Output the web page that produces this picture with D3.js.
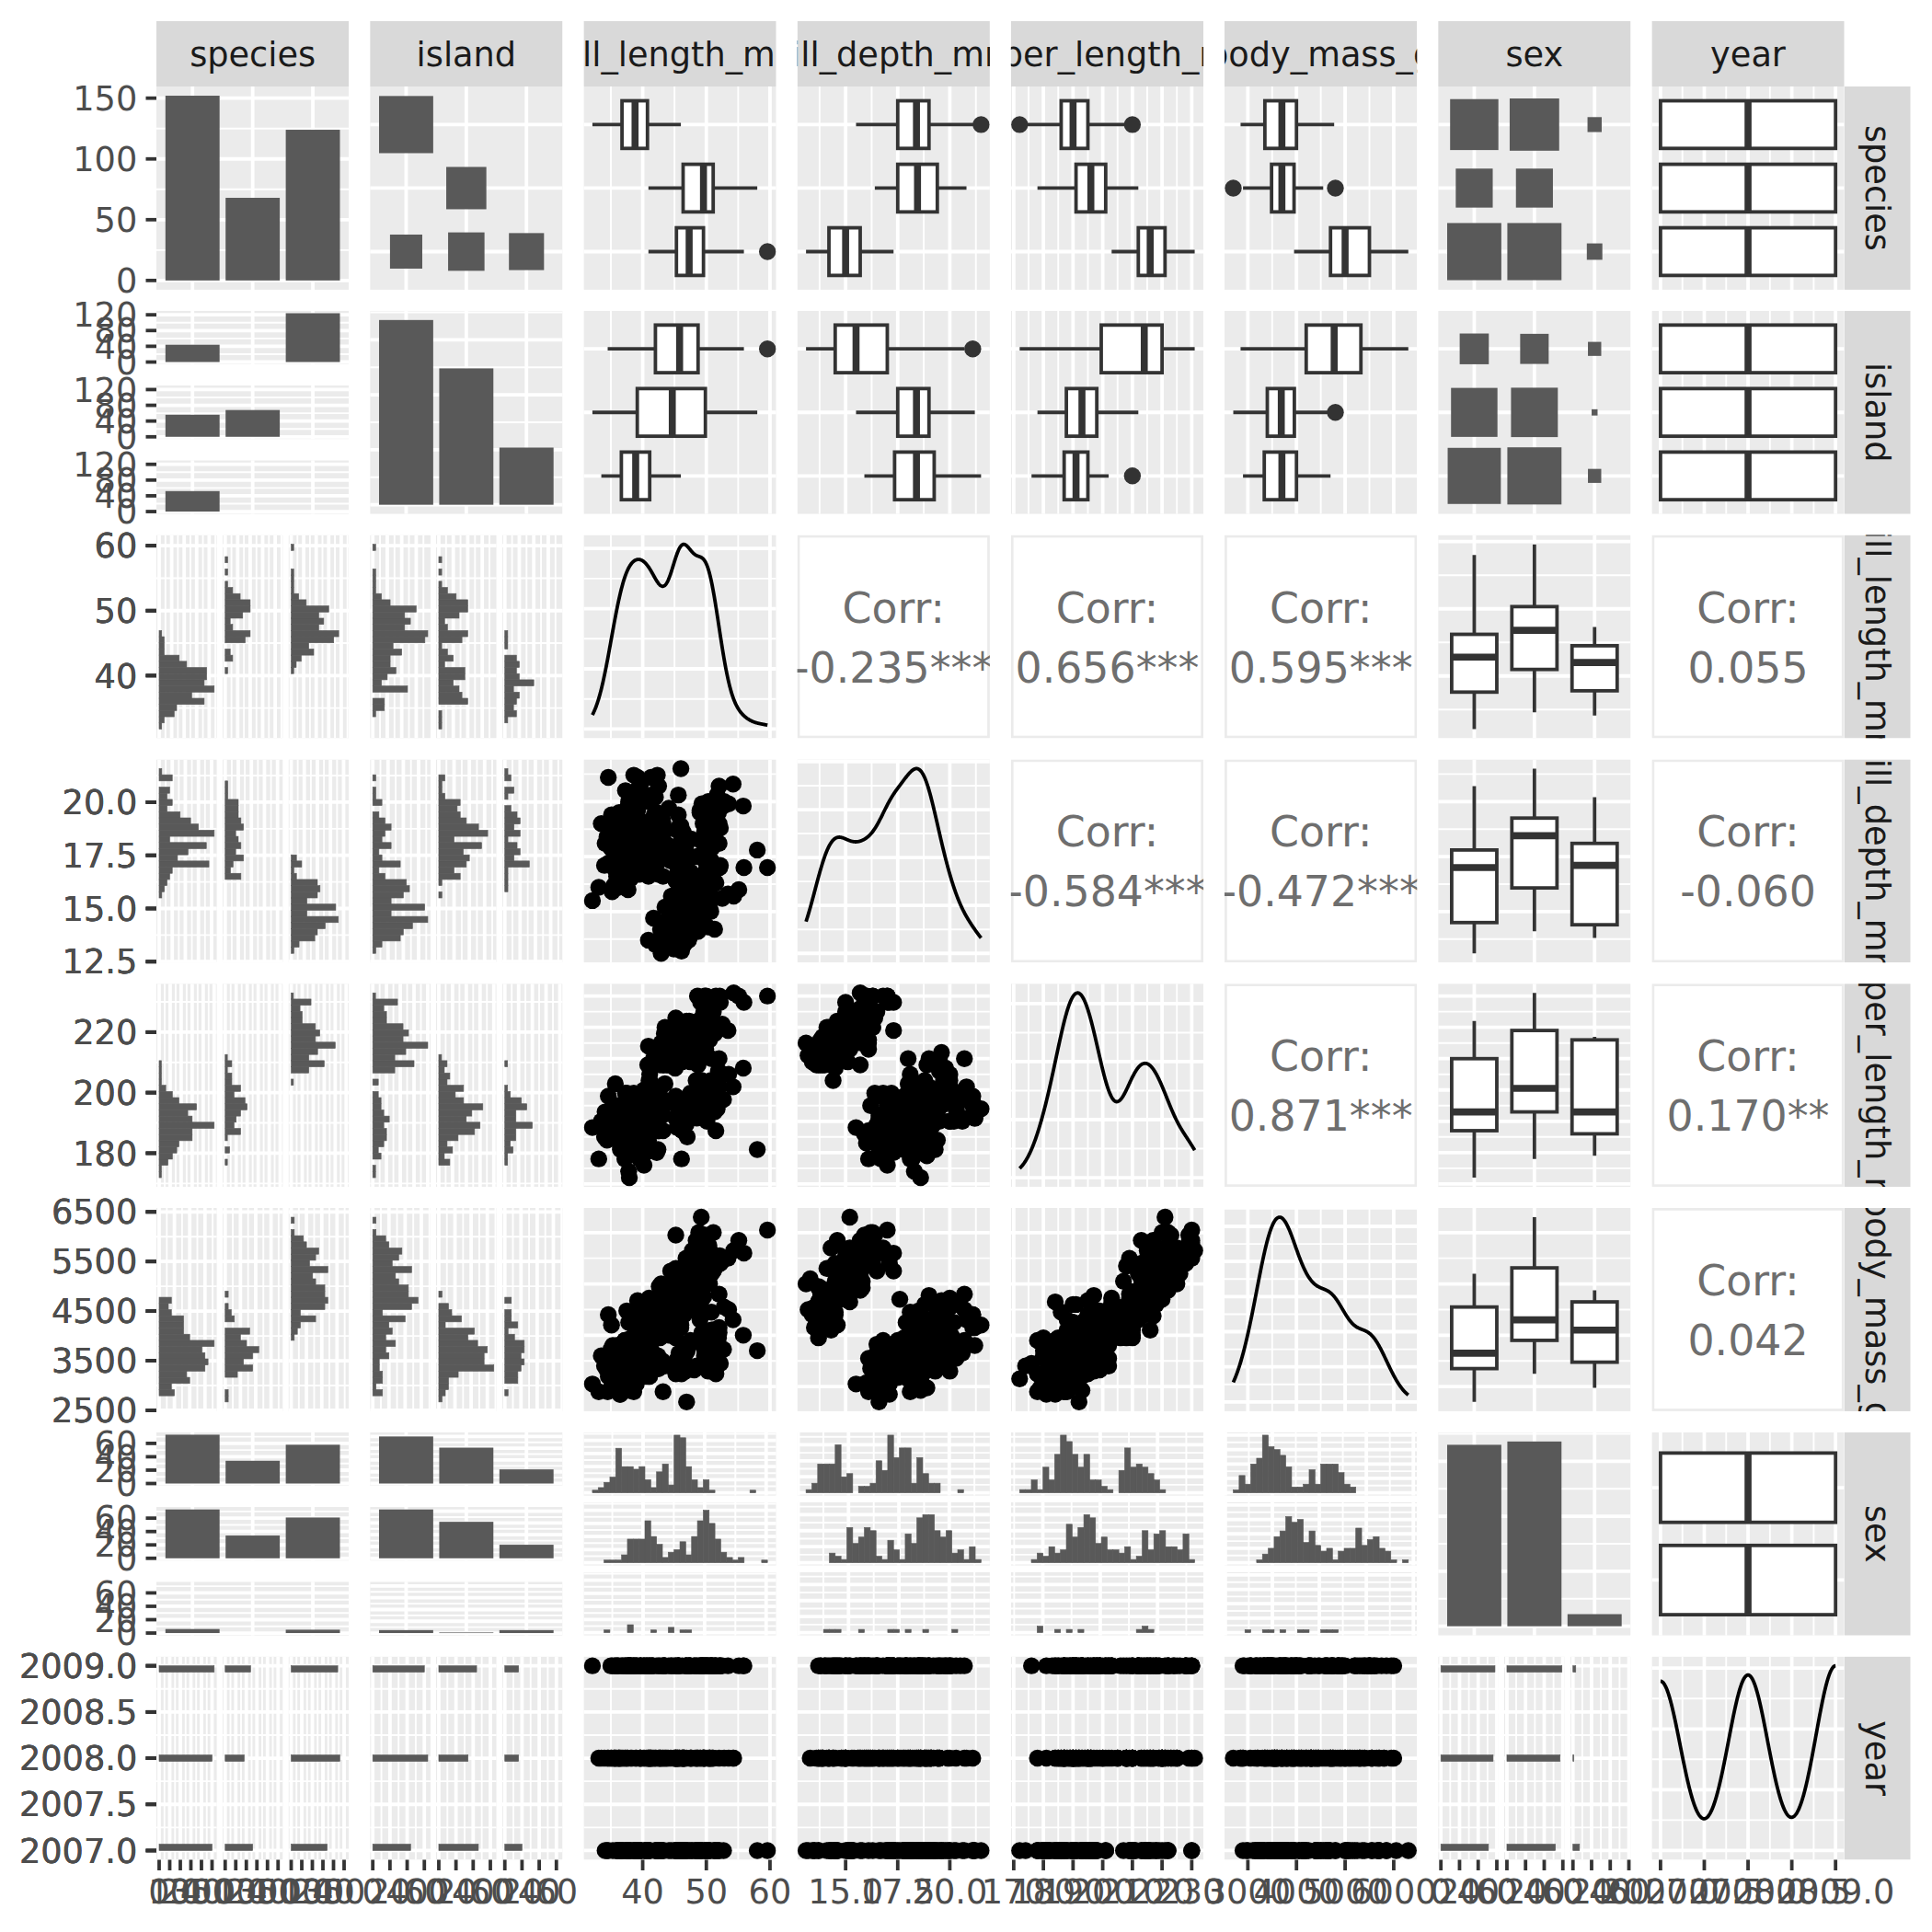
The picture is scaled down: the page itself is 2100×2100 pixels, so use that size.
<!DOCTYPE html>
<html><head><meta charset="utf-8">
<script src="https://cdn.jsdelivr.net/npm/d3@7"></script>
<style>html,body{margin:0;padding:0;background:#fff;} svg{display:block;} text{font-family:"DejaVu Sans",sans-serif;}</style>
</head><body>
<script>
// ---------------- DATA (palmer penguins, read/estimated) ----------------
const M = "male", F = "female", N = null;
const varNames = ["species","island","bill_length_mm","bill_depth_mm","flipper_length_mm","body_mass_g","sex","year"];
const speciesLevels = ["Adelie","Chinstrap","Gentoo"];
const islandLevels = ["Biscoe","Dream","Torgersen"];
const sexLevels = ["female","male",null];
// rows: [bill_length_mm, bill_depth_mm, flipper_length_mm, body_mass_g, sex]
const adelieTorgersen2007 = [[39.1,18.7,181,3750,M],[39.5,17.4,186,3800,F],[40.3,18.0,195,3250,F],[null,null,null,null,N],[36.7,19.3,193,3450,F],[39.3,20.6,190,3650,M],[38.9,17.8,181,3625,F],[39.2,19.6,195,4675,M],[34.1,18.1,193,3475,N],[42.0,20.2,190,4250,N],[37.8,17.1,186,3300,N],[37.8,17.3,180,3700,N],[41.1,17.6,182,3200,F],[38.6,21.2,191,3800,M],[34.6,21.1,198,4400,M],[36.6,17.8,185,3700,F],[38.7,19.0,195,3450,F],[42.5,20.7,197,4500,M],[34.4,18.4,184,3325,F],[46.0,21.5,194,4200,M]];
const adelieBiscoe2007 = [[37.8,18.3,174,3400,F],[37.7,18.7,180,3600,M],[35.9,19.2,189,3800,F],[38.2,18.1,185,3950,M],[38.8,17.2,180,3800,M],[35.3,18.9,187,3800,F],[40.6,18.6,183,3550,M],[40.5,17.9,187,3200,F],[37.9,18.6,172,3150,F],[40.5,18.9,180,3950,M]];
const adelieDream2007 = [[39.5,16.7,178,3250,F],[37.2,18.1,178,3900,M],[39.5,17.8,188,3300,F],[40.9,18.9,184,3900,M],[36.4,17.0,195,3325,F],[39.2,21.1,196,4150,M],[38.8,20.0,190,3950,M],[42.2,18.5,180,3550,F],[37.6,19.3,181,3300,F],[39.8,19.1,184,4650,M],[36.5,18.0,182,3150,F],[40.8,18.4,195,3900,M],[36.0,18.5,186,3100,F],[44.1,19.7,196,4400,M],[37.0,16.9,185,3000,F],[39.6,18.8,190,4600,M],[41.1,19.0,182,3425,M],[37.5,18.9,179,2975,N],[36.0,17.9,190,3450,F],[42.3,21.2,191,4150,M]];
const adelieBiscoe2008 = [[39.6,17.7,186,3500,F],[40.1,18.9,188,4300,M],[35.0,17.9,190,3450,F],[42.0,19.5,200,4050,M],[34.5,18.1,187,2900,F],[41.4,18.6,191,3700,M],[39.0,17.5,186,3550,F],[40.6,18.8,193,3800,M],[36.5,16.6,181,2850,F],[37.6,19.1,194,3750,M],[35.7,16.9,185,3150,F],[41.3,21.1,195,4400,M],[37.6,17.0,185,3600,F],[41.1,18.2,192,4050,M],[36.4,17.1,184,2850,F],[41.6,18.0,192,3950,M],[35.5,16.2,195,3350,F],[41.1,19.1,188,4100,M]];
const adelieTorgersen2008 = [[35.9,16.6,190,3050,F],[41.8,19.4,198,4450,M],[33.5,19.0,190,3600,F],[39.7,18.4,190,3900,M],[39.6,17.2,196,3550,F],[45.8,18.9,197,4150,M],[35.5,17.5,190,3700,F],[42.8,18.5,195,4250,M],[40.9,16.8,191,3700,F],[37.2,19.4,184,3900,M],[36.2,16.1,187,3550,F],[42.1,19.1,195,4000,M],[34.6,17.2,189,3200,F],[42.9,17.6,196,4700,M],[36.7,18.8,187,3800,F],[35.1,19.4,193,4200,M]];
const adelieDream2008 = [[37.3,17.8,191,3350,F],[41.3,20.3,194,3550,M],[36.3,19.5,190,3800,M],[36.9,18.6,189,3500,F],[38.3,19.2,189,3950,M],[38.9,18.8,190,3600,F],[35.7,18.0,202,3550,F],[41.1,18.1,205,4300,M],[34.0,17.1,185,3400,F],[39.6,18.1,186,4450,M],[36.2,17.3,187,3300,F],[40.8,18.9,208,4300,M],[38.1,18.6,190,3700,F],[40.3,18.5,196,4350,M],[33.1,16.1,178,2900,F],[43.2,18.5,192,4100,M]];
const adelieBiscoe2009 = [[35.0,17.9,192,3725,F],[41.0,20.0,203,4725,M],[37.7,16.0,183,3075,F],[37.8,20.0,190,4250,M],[37.9,18.6,193,2925,F],[39.7,18.9,184,3550,M],[38.6,17.2,199,3750,F],[38.2,20.0,190,3900,M],[38.1,17.0,181,3175,F],[43.2,19.0,197,4775,M],[38.1,16.5,198,3825,F],[45.6,20.3,191,4600,M],[39.7,17.7,193,3200,F],[42.2,19.5,197,4275,M],[39.6,20.7,191,3900,F],[42.7,18.3,196,4075,M]];
const adelieTorgersen2009 = [[38.6,17.0,188,2900,F],[37.3,20.5,199,3775,M],[35.7,17.0,189,3350,F],[41.1,18.6,189,3325,M],[36.2,17.2,187,3150,F],[37.7,19.8,198,3500,M],[40.2,17.0,176,3450,F],[41.4,18.5,202,3875,M],[35.2,15.9,186,3050,F],[40.6,19.0,199,4000,M],[38.8,17.6,191,3275,F],[41.5,18.3,195,4300,M],[39.0,17.1,191,3050,F],[44.1,18.0,210,4000,M],[38.5,17.9,190,3325,F],[43.1,19.2,197,3500,M]];
const adelieDream2009 = [[36.8,18.5,193,3500,F],[37.5,18.5,199,4475,M],[38.1,17.6,187,3425,F],[41.1,17.5,190,3900,M],[35.6,17.5,191,3175,F],[40.2,20.1,200,3975,M],[37.0,16.5,185,3400,F],[39.7,17.9,193,4250,M],[40.2,17.1,193,3400,F],[40.6,17.2,187,3475,M],[32.1,15.5,188,3050,F],[40.7,17.0,190,3725,M],[37.3,16.8,192,3000,F],[39.0,18.7,185,3650,M],[39.2,18.6,190,4250,M],[36.6,18.4,184,3475,F],[36.0,17.8,195,3450,F],[37.8,18.1,193,3750,M],[36.0,17.1,187,3700,F],[41.5,18.5,201,4000,M]];
const gentooBiscoe2007 = [[46.1,13.2,211,4500,F],[50.0,16.3,230,5700,M],[48.7,14.1,210,4450,F],[50.0,15.2,218,5700,M],[47.6,14.5,215,5400,M],[46.5,13.5,210,4550,F],[45.4,14.6,211,4800,F],[46.7,15.3,219,5200,M],[43.3,13.4,209,4400,F],[46.8,15.4,215,5150,M],[40.9,13.7,214,4650,F],[49.0,16.1,216,5550,M],[45.5,13.7,214,4650,F],[48.4,14.6,213,5850,M],[45.8,14.6,210,4200,F],[49.3,15.7,217,5850,M],[42.0,13.5,210,4150,F],[49.2,15.2,221,6300,M],[46.2,14.5,209,4800,F],[48.7,15.1,222,5350,M],[50.2,14.3,218,5700,M],[45.1,14.5,215,5000,F],[46.5,14.5,213,4400,F],[46.3,15.8,215,5050,M],[42.9,13.1,215,5000,F],[46.1,15.1,215,5100,M],[44.5,14.3,216,4100,N],[47.8,15.0,215,5650,M],[48.2,14.3,210,4600,F],[50.0,15.3,220,5550,M],[47.3,15.3,222,5250,M],[42.8,14.2,209,4700,F],[45.1,14.5,207,5050,F],[59.6,17.0,230,6050,M]];
const gentooBiscoe2008 = [[49.1,14.8,220,5150,F],[48.4,16.3,220,5400,M],[42.6,13.7,213,4950,F],[44.4,17.3,219,5250,M],[44.0,13.6,208,4350,F],[48.7,15.7,208,5350,M],[42.7,13.7,208,3950,F],[49.6,16.0,225,5700,M],[45.3,13.7,210,4300,F],[49.6,15.0,216,4750,M],[50.5,15.9,222,5550,M],[43.6,13.9,217,4900,F],[45.5,13.9,210,4200,F],[50.5,15.9,225,5400,M],[44.9,13.3,213,5100,F],[45.2,15.8,215,5300,M],[46.6,14.2,210,4850,F],[48.5,14.1,220,5300,M],[45.1,14.4,210,4400,F],[50.1,15.0,225,5000,M],[46.5,14.4,217,4900,F],[45.0,15.4,220,5050,M],[43.8,13.9,208,4300,F],[45.5,15.0,220,5000,M],[43.2,14.5,208,4450,F],[50.4,15.3,224,5550,M],[45.3,13.8,208,4200,F],[46.2,14.9,221,5300,M],[45.7,13.9,214,4400,F],[54.3,15.7,231,5650,M],[45.8,14.2,219,4700,F],[49.8,16.8,230,5700,M],[46.2,14.4,214,4650,N],[49.5,16.2,229,5800,M],[43.5,14.2,220,4700,F],[50.7,15.0,223,5550,M],[47.7,15.0,216,4750,F],[46.4,15.6,221,5000,M],[48.2,15.6,221,5100,M],[46.5,14.8,217,5200,F],[46.4,15.0,216,4700,F],[48.6,16.0,230,5800,M],[47.5,14.2,209,4600,F],[51.1,16.3,220,6000,M],[45.2,13.8,215,4750,F],[45.2,16.4,223,5950,M]];
const gentooBiscoe2009 = [[49.1,14.5,212,4625,F],[52.5,15.6,221,5450,M],[47.4,14.6,212,4725,F],[50.0,15.9,224,5350,M],[44.9,13.8,212,4750,F],[50.8,17.3,228,5600,M],[43.4,14.4,218,4600,F],[51.3,14.2,218,5300,M],[47.5,14.0,212,4875,F],[52.1,17.0,230,5550,M],[47.5,15.0,218,4950,F],[52.2,17.1,228,5400,M],[45.5,14.5,212,4750,F],[49.5,16.1,224,5650,M],[44.5,14.7,214,4850,F],[50.8,15.7,226,5200,M],[49.4,15.8,216,4925,M],[46.9,14.6,222,4875,F],[48.4,14.4,203,4625,F],[51.1,16.5,225,5250,M],[48.5,15.0,219,4850,F],[55.9,17.0,228,5600,M],[47.2,15.5,215,4975,F],[49.1,15.0,228,5500,M],[47.3,13.8,216,4725,N],[46.8,16.1,215,5500,M],[41.7,14.7,210,4700,F],[53.4,15.8,219,5500,M],[43.3,14.0,208,4575,F],[48.1,15.1,209,5500,M],[50.5,15.2,216,5000,F],[49.8,15.9,229,5950,M],[43.5,15.2,213,4650,F],[51.5,16.3,230,5500,M],[46.2,14.1,217,4375,F],[55.1,16.0,230,5850,M],[44.5,15.7,217,4875,N],[48.8,16.2,222,6000,M],[47.2,13.7,214,4925,F],[null,null,null,null,N],[46.8,14.3,215,4850,F],[50.4,15.7,222,5750,M],[45.2,14.8,212,5200,F],[49.9,16.1,213,5400,M]];
const chinstrapDream2007 = [[46.5,17.9,192,3500,F],[50.0,19.5,196,3900,M],[51.3,19.2,193,3650,M],[45.4,18.7,188,3525,F],[52.7,19.8,197,3725,M],[45.2,17.8,198,3950,F],[46.1,18.2,178,3250,F],[51.3,18.2,197,3750,M],[46.0,18.9,195,4150,F],[51.3,19.9,198,3700,M],[46.6,17.8,193,3800,F],[51.7,20.3,194,3775,M],[47.0,17.3,185,3700,F],[52.0,18.1,201,4050,M],[45.9,17.1,190,3575,F],[50.5,19.6,201,4050,M],[50.3,20.0,197,3300,M],[58.0,17.8,181,3700,F],[46.4,18.6,190,3450,F],[49.2,18.2,195,4400,M],[42.4,17.3,181,3600,F],[48.5,17.5,191,3400,M],[43.2,16.6,187,2900,F],[50.6,19.4,193,3800,M],[46.7,17.9,195,3300,F],[52.0,19.0,197,4150,M]];
const chinstrapDream2008 = [[50.5,18.4,200,3400,F],[49.5,19.0,200,3800,M],[46.4,17.8,191,3700,F],[52.8,20.0,205,4550,M],[40.9,16.6,187,3200,F],[54.2,20.8,201,4300,M],[42.5,16.7,187,3350,F],[51.0,18.8,203,4100,M],[49.7,18.6,195,3600,M],[47.5,16.8,199,3900,F],[47.6,18.3,195,3850,F],[52.0,20.7,210,4800,M],[46.9,16.6,192,2700,F],[53.5,19.9,205,4500,M],[49.0,19.5,210,3950,M],[46.2,17.5,187,3650,F],[50.9,19.1,196,3550,M],[45.5,17.0,196,3500,F]];
const chinstrapDream2009 = [[50.9,17.9,196,3675,F],[50.8,18.5,201,4450,M],[50.1,17.9,190,3400,F],[49.0,19.6,212,4300,M],[51.5,18.7,187,3250,M],[49.8,17.3,198,3675,F],[48.1,16.4,199,3325,F],[51.4,19.0,201,3950,M],[45.7,17.3,193,3600,F],[50.7,19.7,203,4050,M],[42.5,17.3,187,3350,F],[52.2,18.8,197,3450,M],[45.2,16.6,191,3250,F],[49.3,19.9,203,4050,M],[50.2,18.8,202,3800,M],[45.6,19.4,194,3525,F],[51.9,19.5,206,3950,M],[46.8,16.5,189,3650,F],[45.7,17.0,195,3650,F],[55.8,19.8,207,4000,M],[43.5,18.1,202,3400,F],[49.6,18.2,193,3775,M],[50.8,19.0,210,4100,M],[50.2,18.7,198,3775,F]];
const groupIndex = [
  ["Adelie","Torgersen",2007,adelieTorgersen2007],["Adelie","Biscoe",2007,adelieBiscoe2007],["Adelie","Dream",2007,adelieDream2007],
  ["Adelie","Biscoe",2008,adelieBiscoe2008],["Adelie","Torgersen",2008,adelieTorgersen2008],["Adelie","Dream",2008,adelieDream2008],
  ["Adelie","Biscoe",2009,adelieBiscoe2009],["Adelie","Torgersen",2009,adelieTorgersen2009],["Adelie","Dream",2009,adelieDream2009],
  ["Gentoo","Biscoe",2007,gentooBiscoe2007],["Gentoo","Biscoe",2008,gentooBiscoe2008],["Gentoo","Biscoe",2009,gentooBiscoe2009],
  ["Chinstrap","Dream",2007,chinstrapDream2007],["Chinstrap","Dream",2008,chinstrapDream2008],["Chinstrap","Dream",2009,chinstrapDream2009]
];
// correlation labels shown in the upper triangle [row, col, text]
const corrLabels = [[2,3,"-0.235***"],[2,4,"0.656***"],[2,5,"0.595***"],[2,7,"0.055"],[3,4,"-0.584***"],[3,5,"-0.472***"],[3,7,"-0.060"],[4,5,"0.871***"],[4,7,"0.170**"],[5,7,"0.042"]];
// tick labels
const leftTicks = [["0","50","100","150"],["0","40","80","120"],["40","50","60"],["12.5","15.0","17.5","20.0"],["180","200","220"],["2500","3500","4500","5500","6500"],["0","20","40","60"],["2007.0","2007.5","2008.0","2008.5","2009.0"]];
const bottomTicks = [["0","10","20","30","40","50"],["0","20","40","60"],["40","50","60"],["15.0","17.5","20.0"],["170","180","190","200","210","220","230"],["3000","4000","5000","6000"],["0","20","40","60"],["2007.0","2007.5","2008.0","2008.5","2009.0"]];

const penguins = [];
groupIndex.forEach(([sp, isl, yr, rows]) => rows.forEach(r => penguins.push({
  species: sp, island: isl, bill_length_mm: r[0], bill_depth_mm: r[1], flipper_length_mm: r[2], body_mass_g: r[3], sex: r[4], year: yr })));

// ---------------- LAYOUT / STYLE ----------------
const X0 = 170, PW = 209.3, PPX = 232.2, Y0 = 94, PH = 220.9, PPY = 243.8;
const BG = "#EBEBEB", FILL = "#595959", DARK = "#333333", AXT = "#4D4D4D";
const LW = 3.8, PR = 9.2, FS = 36.7, BOXW = 0.75;

const svg = d3.select("body").append("svg").attr("width", 2100).attr("height", 2100);
svg.append("rect").attr("width", 2100).attr("height", 2100).attr("fill", "#fff");
const defs = svg.append("defs");
let clipN = 0;
function clip(x, y, w, h) {
  const id = "cp" + (clipN++);
  defs.append("clipPath").attr("id", id).append("rect").attr("x", x).attr("y", y).attr("width", w).attr("height", h);
  return "url(#" + id + ")";
}
const isCat = v => v === "species" || v === "island" || v === "sex";
const levelsOf = v => v === "species" ? speciesLevels : v === "island" ? islandLevels : sexLevels;
const key = v => v === null ? "NA" : v;
const num = v => penguins.map(d => d[v]).filter(x => x != null);
const expand = (lo, hi) => { const r = hi - lo; return [lo - 0.05 * r, hi + 0.05 * r]; };

// ggplot-like extended breaks (Talbot et al.)
function extendedBreaks(dmin, dmax, m = 5) {
  const Q = [1, 5, 2, 2.5, 4, 3], w = [0.25, 0.2, 0.5, 0.05], eps = 1e-10, n = Q.length;
  if (dmax - dmin < eps) return [dmin];
  const mod = (a, b) => ((a % b) + b) % b;
  const simplicity = (i, j, lmin, lmax, lstep) => {
    const r = mod(lmin, lstep);
    const v = ((r < eps || lstep - r < eps) && lmin <= 0 && lmax >= 0) ? 1 : 0;
    return 1 - i / (n - 1) - j + v;
  };
  const simplicityMax = (i, j) => 1 - i / (n - 1) - j + 1;
  const rng = dmax - dmin;
  const coverage = (lmin, lmax) => 1 - 0.5 * ((dmax - lmax) ** 2 + (dmin - lmin) ** 2) / ((0.1 * rng) ** 2);
  const coverageMax = span => { if (span > rng) { const h = (span - rng) / 2; return 1 - 0.5 * (2 * h * h) / ((0.1 * rng) ** 2); } return 1; };
  const density = (k, lmin, lmax) => { const r = (k - 1) / (lmax - lmin); const rt = (m - 1) / (Math.max(lmax, dmax) - Math.min(dmin, lmin)); return 2 - Math.max(r / rt, rt / r); };
  const densityMax = k => k >= m ? 2 - (k - 1) / (m - 1) : 1;
  let best = null, bestScore = -2, j = 1;
  outer: while (j < 60) {
    for (let i = 0; i < n; i++) {
      const q = Q[i];
      const sm = simplicityMax(i, j);
      if (w[0] * sm + w[1] + w[2] + w[3] < bestScore) break outer;
      let k = 2;
      while (k < 200) {
        const dm = densityMax(k);
        if (w[0] * sm + w[1] + w[2] * dm + w[3] < bestScore) break;
        const delta = rng / (k + 1) / j / q;
        let z = Math.ceil(Math.log10(delta));
        let guard = 0;
        while (guard++ < 60) {
          const step = j * q * Math.pow(10, z);
          const cm = coverageMax(step * (k - 1));
          if (w[0] * sm + w[1] * cm + w[2] * dm + w[3] < bestScore) break;
          const minStart = Math.floor(dmax / step) * j - (k - 1) * j;
          const maxStart = Math.ceil(dmin / step) * j;
          if (minStart <= maxStart) {
            for (let start = minStart; start <= maxStart; start++) {
              const lmin = start * (step / j), lmax = lmin + step * (k - 1);
              const score = w[0] * simplicity(i, j, lmin, lmax, step) + w[1] * coverage(lmin, lmax) + w[2] * density(k, lmin, lmax) + w[3];
              if (score > bestScore) { bestScore = score; best = [lmin, step, k]; }
            }
          }
          z++;
        }
        k++;
      }
    }
    j++;
  }
  if (!best) return [];
  const out = [];
  for (let t = 0; t < best[2]; t++) out.push(+(best[0] + t * best[1]).toFixed(10));
  return out.filter(v => v >= dmin - 1e-9 && v <= dmax + 1e-9);
}
function minorBreaks(b, lo, hi) {
  if (b.length < 2) return [];
  const bd = b[1] - b[0], bb = b.slice();
  if (lo < bb[0]) bb.unshift(bb[0] - bd);
  if (hi > bb[bb.length - 1]) bb.push(bb[bb.length - 1] + bd);
  const out = [];
  for (let k = 0; k < bb.length - 1; k++) out.push((bb[k] + bb[k + 1]) / 2);
  return out.filter(v => v > lo && v < hi);
}
function contInfo(scale, ov) {
  const d = scale.domain(), lo = Math.min(d[0], d[1]), hi = Math.max(d[0], d[1]);
  const major = ov ? ov.filter(v => v >= lo && v <= hi) : extendedBreaks(lo, hi);
  return { scale, major, minor: minorBreaks(major, lo, hi) };
}
const discInfo = scale => ({ scale, major: scale.domain(), minor: [] });

function drawGrid(g, x, y, w, h, xi, yi) {
  const ln = (x1, y1, x2, y2, sw) => g.append("line").attr("x1", x1).attr("y1", y1).attr("x2", x2).attr("y2", y2).attr("stroke", "#fff").attr("stroke-width", sw);
  yi.minor.forEach(v => { const yy = yi.scale(v); ln(x, yy, x + w, yy, LW / 2); });
  xi.minor.forEach(v => { const xx = xi.scale(v); ln(xx, y, xx, y + h, LW / 2); });
  yi.major.forEach(v => { const yy = yi.scale(v); ln(x, yy, x + w, yy, LW); });
  xi.major.forEach(v => { const xx = xi.scale(v); ln(xx, y, xx, y + h, LW); });
}
function sub(x, y, w, h, xi, yi) {
  const g = svg.append("g").attr("clip-path", clip(x, y, w, h));
  g.append("rect").attr("x", x).attr("y", y).attr("width", w).attr("height", h).attr("fill", BG);
  drawGrid(g, x, y, w, h, xi, yi);
  return g;
}
const box = (i, j) => ({ x: X0 + j * PPX, y: Y0 + i * PPY, w: PW, h: PH });

// stats
function binsOf(v) { // 30 bins, boundary = width/2 (ggplot bin_breaks_bins)
  const [lo, hi] = d3.extent(num(v));
  const w = (hi - lo) / 29, boundary = w / 2;
  const shift = Math.floor((lo - boundary) / w + 1e-9);
  const origin = boundary + shift * w, maxX = hi + (1 - 1e-8) * w;
  const nb = Math.floor((maxX - origin) / w + 1e-10);
  const edges = [];
  for (let k = 0; k <= nb; k++) edges.push(origin + k * w);
  const fz = 1e-7 * w;
  const idx = x => { for (let k = 0; k < edges.length - 1; k++) if (x <= edges[k + 1] + fz) return k; return edges.length - 2; };
  return { edges, idx };
}
function kde(vals) {
  const n = vals.length, s = vals.slice().sort(d3.ascending);
  const sd = d3.deviation(s), iqr = d3.quantileSorted(s, 0.75) - d3.quantileSorted(s, 0.25);
  let lo = Math.min(sd, iqr / 1.34); if (!lo) lo = sd || 1;
  const bw = 0.9 * lo * Math.pow(n, -0.2);
  const a = s[0], b = s[n - 1], pts = [];
  for (let k = 0; k < 512; k++) {
    const x = a + (b - a) * k / 511; let t = 0;
    for (const v of s) { const u = (x - v) / bw; t += Math.exp(-0.5 * u * u); }
    pts.push([x, t / (n * bw * Math.sqrt(2 * Math.PI))]);
  }
  return pts;
}
function boxStats(vals) {
  const s = vals.slice().sort(d3.ascending);
  const q1 = d3.quantileSorted(s, 0.25), med = d3.quantileSorted(s, 0.5), q3 = d3.quantileSorted(s, 0.75);
  const iqr = q3 - q1, lo = q1 - 1.5 * iqr, hi = q3 + 1.5 * iqr;
  const ins = s.filter(v => v >= lo && v <= hi);
  return { q1, med, q3, wlo: d3.min(ins), whi: d3.max(ins), out: s.filter(v => v < lo || v > hi) };
}
const barRect = (g) => g.append("rect").attr("fill", FILL).attr("stroke", FILL).attr("stroke-width", 0.6);

// ---------------- PANEL TYPES ----------------
function barDiag(i, v, ov) {
  const { x, y, w, h } = box(i, i);
  const lv = levelsOf(v).filter(l => penguins.some(d => d[v] === l));
  const cnt = lv.map(l => penguins.filter(d => d[v] === l).length);
  const Mx = d3.max(cnt);
  const xs = d3.scalePoint().domain(lv.map(key)).range([x, x + w]).padding(0.6);
  const ys = d3.scaleLinear().domain([-0.05 * Mx, 1.05 * Mx]).range([y + h, y]);
  const g = sub(x, y, w, h, discInfo(xs), contInfo(ys, ov.y));
  const bw = 0.9 * xs.step();
  lv.forEach((l, k) => g.append("rect").attr("x", xs(key(l)) - bw / 2).attr("width", bw).attr("y", ys(cnt[k])).attr("height", ys(0) - ys(cnt[k])).attr("fill", FILL));
  return { xs: [xs], ys: [ys] };
}
function densityDiag(i, v, ov) {
  const { x, y, w, h } = box(i, i);
  const vals = num(v), pts = kde(vals), mx = d3.max(pts, p => p[1]);
  const xs = d3.scaleLinear().domain(expand(...d3.extent(vals))).range([x, x + w]);
  const ys = d3.scaleLinear().domain([-0.05 * mx, 1.05 * mx]).range([y + h, y]);
  const g = sub(x, y, w, h, contInfo(xs, ov.x), contInfo(ys, ov.y));
  g.append("path").attr("d", d3.line().x(p => xs(p[0])).y(p => ys(p[1]))(pts)).attr("fill", "none").attr("stroke", "#000").attr("stroke-width", LW);
  return { xs: [xs], ys: [ys] };
}
function scatter(i, j, ov) {
  const { x, y, w, h } = box(i, j), xv = varNames[j], yv = varNames[i];
  const d = penguins.filter(p => p[xv] != null && p[yv] != null);
  const xs = d3.scaleLinear().domain(expand(...d3.extent(d, p => p[xv]))).range([x, x + w]);
  const ys = d3.scaleLinear().domain(expand(...d3.extent(d, p => p[yv]))).range([y + h, y]);
  const g = sub(x, y, w, h, contInfo(xs, ov.x), contInfo(ys, ov.y));
  g.selectAll("circle").data(d).join("circle").attr("cx", p => xs(p[xv])).attr("cy", p => ys(p[yv])).attr("r", PR).attr("fill", "#000");
  return { xs: [xs], ys: [ys] };
}
function corrPanel(i, j) {
  const { x, y, w, h } = box(i, j);
  const lab = corrLabels.find(c => c[0] === i && c[1] === j)[2];
  const g = svg.append("g").attr("clip-path", clip(x, y, w, h));
  g.append("rect").attr("x", x).attr("y", y).attr("width", w).attr("height", h).attr("fill", "#fff");
  g.append("rect").attr("x", x + 1.4).attr("y", y + 1.4).attr("width", w - 2.8).attr("height", h - 2.8).attr("fill", "none").attr("stroke", BG).attr("stroke-width", 2.8);
  g.append("text").attr("x", x + w / 2).attr("y", y + h / 2 - 15.5).attr("text-anchor", "middle").attr("font-size", 45.8).attr("fill", "#6E6E6E").text("Corr:");
  g.append("text").attr("x", x + w / 2).attr("y", y + h / 2 + 49.5).attr("text-anchor", "middle").attr("font-size", 45.8).attr("fill", "#6E6E6E").text(lab);
  return { xs: [], ys: [] };
}
function drawBox(g, s, c, half, pos, horiz) {
  const L = (a1, b1, a2, b2, sw) => {
    const l = g.append("line").attr("stroke", DARK).attr("stroke-width", sw);
    if (horiz) l.attr("x1", a1).attr("y1", b1).attr("x2", a2).attr("y2", b2); else l.attr("x1", b1).attr("y1", a1).attr("x2", b2).attr("y2", a2);
  };
  L(pos(s.wlo), c, pos(s.q1), c, LW);
  L(pos(s.q3), c, pos(s.whi), c, LW);
  const a = Math.min(pos(s.q1), pos(s.q3)), b = Math.max(pos(s.q1), pos(s.q3));
  const r = g.append("rect").attr("fill", "#fff").attr("stroke", DARK).attr("stroke-width", LW);
  if (horiz) r.attr("x", a).attr("y", c - half).attr("width", b - a).attr("height", 2 * half);
  else r.attr("x", c - half).attr("y", a).attr("width", 2 * half).attr("height", b - a);
  L(pos(s.med), c - half, pos(s.med), c + half, 2 * LW);
  s.out.forEach(o => { const cc = g.append("circle").attr("r", PR).attr("fill", DARK); if (horiz) cc.attr("cx", pos(o)).attr("cy", c); else cc.attr("cx", c).attr("cy", pos(o)); });
}
function boxH(i, j) { // categorical rows, continuous columns -> horizontal boxes
  const { x, y, w, h } = box(i, j), cv = varNames[i], nv = varNames[j];
  const lv = levelsOf(cv).filter(l => l !== null);
  const d = penguins.filter(p => p[nv] != null && p[cv] != null);
  const ys = d3.scalePoint().domain(lv.map(key)).range([y, y + h]).padding(0.6);
  const xs = d3.scaleLinear().domain(expand(...d3.extent(d, p => p[nv]))).range([x, x + w]);
  const g = sub(x, y, w, h, contInfo(xs), discInfo(ys));
  lv.forEach(l => drawBox(g, boxStats(d.filter(p => p[cv] === l).map(p => p[nv])), ys(key(l)), BOXW * ys.step() / 2, xs, true));
  return { xs: [xs], ys: [ys] };
}
function boxV(i, j) { // continuous rows, categorical columns -> vertical boxes
  const { x, y, w, h } = box(i, j), nv = varNames[i], cv = varNames[j];
  const d = penguins.filter(p => p[nv] != null);
  const lv = levelsOf(cv).filter(l => d.some(p => p[cv] === l));
  const xs = d3.scalePoint().domain(lv.map(key)).range([x, x + w]).padding(0.6);
  const ys = d3.scaleLinear().domain(expand(...d3.extent(d, p => p[nv]))).range([y + h, y]);
  const g = sub(x, y, w, h, discInfo(xs), contInfo(ys));
  lv.forEach(l => drawBox(g, boxStats(d.filter(p => p[cv] === l).map(p => p[nv])), xs(key(l)), BOXW * xs.step() / 2, ys, false));
  return { xs: [xs], ys: [ys] };
}
function countPanel(i, j) {
  const { x, y, w, h } = box(i, j), rv = varNames[i], cv = varNames[j];
  const yl = levelsOf(rv), xl = levelsOf(cv);
  const xs = d3.scalePoint().domain(xl.map(key)).range([x, x + w]).padding(0.6);
  const ys = d3.scalePoint().domain(yl.map(key)).range([y + h, y]).padding(0.6);
  const g = sub(x, y, w, h, discInfo(xs), discInfo(ys));
  const cells = [];
  yl.forEach(a => xl.forEach(b => { const c = penguins.filter(p => p[rv] === a && p[cv] === b).length; if (c > 0) cells.push([a, b, c]); }));
  const mx = d3.max(cells, c => c[2]);
  cells.forEach(([a, b, c]) => {
    const f = Math.sqrt(c / mx), cw = 0.9 * xs.step() * f, ch = 0.9 * ys.step() * f;
    g.append("rect").attr("x", xs(key(b)) - cw / 2).attr("y", ys(key(a)) - ch / 2).attr("width", cw).attr("height", ch).attr("fill", FILL);
  });
  return { xs: [xs], ys: [ys] };
}
function facetBar(i, j, ov) { // rows = facets of row var, bars of column var
  const { x, y, w, h } = box(i, j), rv = varNames[i], cv = varNames[j];
  const fl = levelsOf(rv), xl = levelsOf(cv).filter(l => penguins.some(p => p[cv] === l));
  const gap = 22.9, sh = (h - 2 * gap) / 3;
  const cnt = fl.map(a => xl.map(b => penguins.filter(p => p[rv] === a && p[cv] === b).length));
  const mx = d3.max(cnt.flat());
  const out = { xs: [], ys: [] };
  fl.forEach((a, f) => {
    const y0 = y + f * (sh + gap);
    const xs = d3.scalePoint().domain(xl.map(key)).range([x, x + w]).padding(0.6);
    const ys = d3.scaleLinear().domain([-0.05 * mx, 1.05 * mx]).range([y0 + sh, y0]);
    const g = sub(x, y0, w, sh, discInfo(xs), contInfo(ys, ov.y));
    const bw = 0.9 * xs.step();
    xl.forEach((b, k) => { const c = cnt[f][k]; if (c > 0) g.append("rect").attr("x", xs(key(b)) - bw / 2).attr("width", bw).attr("y", ys(c)).attr("height", ys(0) - ys(c)).attr("fill", FILL); });
    out.xs.push(xs); out.ys.push(ys);
  });
  return out;
}
function facetHistH(i, j, ov) { // continuous row var on y, facets by column categorical
  const { x, y, w, h } = box(i, j), nv = varNames[i], cv = varNames[j];
  const { edges, idx } = binsOf(nv);
  const fl = levelsOf(cv);
  const gap = 6, sw = (w - 2 * gap) / 3;
  const cnt = fl.map(a => { const c = new Array(edges.length - 1).fill(0); penguins.forEach(p => { if (p[nv] != null && p[cv] === a) c[idx(p[nv])]++; }); return c; });
  const mx = d3.max(cnt.flat());
  const yd = expand(edges[0], edges[edges.length - 1]);
  const out = { xs: [], ys: [] };
  fl.forEach((a, f) => {
    const x0 = x + f * (sw + gap);
    const xs = d3.scaleLinear().domain([-0.05 * mx, 1.05 * mx]).range([x0, x0 + sw]);
    const ys = d3.scaleLinear().domain(yd).range([y + h, y]);
    const g = sub(x0, y, sw, h, contInfo(xs, ov.x), contInfo(ys, ov.y));
    cnt[f].forEach((c, k) => { if (c > 0) barRect(g).attr("x", xs(0)).attr("width", xs(c) - xs(0)).attr("y", ys(edges[k + 1])).attr("height", ys(edges[k]) - ys(edges[k + 1])); });
    out.xs.push(xs); out.ys.push(ys);
  });
  return out;
}
function facetHistV(i, j, ov) { // categorical row facets, continuous column var on x
  const { x, y, w, h } = box(i, j), cv = varNames[i], nv = varNames[j];
  const { edges, idx } = binsOf(nv);
  const fl = levelsOf(cv);
  const gap = 7, sh = (h - 2 * gap) / 3;
  const cnt = fl.map(a => { const c = new Array(edges.length - 1).fill(0); penguins.forEach(p => { if (p[nv] != null && p[cv] === a) c[idx(p[nv])]++; }); return c; });
  const mx = d3.max(cnt.flat());
  const xd = expand(edges[0], edges[edges.length - 1]);
  const out = { xs: [], ys: [] };
  fl.forEach((a, f) => {
    const y0 = y + f * (sh + gap);
    const xs = d3.scaleLinear().domain(xd).range([x, x + w]);
    const ys = d3.scaleLinear().domain([-0.05 * mx, 1.05 * mx]).range([y0 + sh, y0]);
    const g = sub(x, y0, w, sh, contInfo(xs, ov.x), contInfo(ys, ov.y));
    cnt[f].forEach((c, k) => { if (c > 0) barRect(g).attr("x", xs(edges[k])).attr("width", xs(edges[k + 1]) - xs(edges[k])).attr("y", ys(c)).attr("height", ys(0) - ys(c)); });
    out.xs.push(xs); out.ys.push(ys);
  });
  return out;
}

// ---------------- BUILD MATRIX ----------------
const panels = [];
for (let i = 0; i < 8; i++) {
  panels.push([]);
  for (let j = 0; j < 8; j++) {
    const vi = varNames[i], vj = varNames[j], ci = isCat(vi), cj = isCat(vj);
    const ov = { x: i === 7 ? bottomTicks[j].map(Number) : null, y: j === 0 ? leftTicks[i].map(Number) : null };
    let r;
    if (i === j) r = ci ? barDiag(i, vi, ov) : densityDiag(i, vi, ov);
    else if (i < j) {
      if (ci && cj) r = countPanel(i, j);
      else if (!ci && !cj) r = corrPanel(i, j);
      else if (ci) r = boxH(i, j);
      else r = boxV(i, j);
    } else {
      if (ci && cj) r = facetBar(i, j, ov);
      else if (!ci && !cj) r = scatter(i, j, ov);
      else if (cj) r = facetHistH(i, j, ov);
      else r = facetHistV(i, j, ov);
    }
    panels[i].push(r);
  }
}

// ---------------- AXES ----------------
const ax = svg.append("g");
for (let i = 0; i < 8; i++) {
  panels[i][0].ys.forEach(s => {
    const d = s.domain(), lo = Math.min(...d), hi = Math.max(...d);
    leftTicks[i].forEach(l => {
      const v = +l; if (v < lo || v > hi) return;
      const yy = s(v);
      ax.append("line").attr("x1", X0 - 11.5).attr("x2", X0).attr("y1", yy).attr("y2", yy).attr("stroke", DARK).attr("stroke-width", LW);
      ax.append("text").attr("x", X0 - 11.5 - 9.2).attr("y", yy).attr("dy", "0.36em").attr("text-anchor", "end").attr("font-size", FS).attr("fill", AXT).text(l);
    });
  });
}
const yB = Y0 + 7 * PPY + PH;
for (let j = 0; j < 8; j++) {
  panels[7][j].xs.forEach(s => {
    const d = s.domain(), lo = Math.min(...d), hi = Math.max(...d);
    bottomTicks[j].forEach(l => {
      const v = +l; if (v < lo || v > hi) return;
      const xx = s(v);
      ax.append("line").attr("x1", xx).attr("x2", xx).attr("y1", yB).attr("y2", yB + 11.5).attr("stroke", DARK).attr("stroke-width", LW);
      ax.append("text").attr("x", xx).attr("y", yB + 47).attr("text-anchor", "middle").attr("font-size", FS).attr("fill", AXT).text(l);
    });
  });
}

// ---------------- STRIPS ----------------
const stripTop = 23, stripH = Y0 - 23, stripX = X0 + 7 * PPX + PW, stripW = 72;
for (let j = 0; j < 8; j++) {
  const x = X0 + j * PPX;
  const g = svg.append("g").attr("clip-path", clip(x, stripTop, PW, stripH));
  g.append("rect").attr("x", x).attr("y", stripTop).attr("width", PW).attr("height", stripH).attr("fill", "#D9D9D9");
  g.append("text").attr("x", x + PW / 2).attr("y", stripTop + stripH / 2 + 13).attr("text-anchor", "middle").attr("font-size", FS).attr("fill", "#1A1A1A").text(varNames[j]);
}
for (let i = 0; i < 8; i++) {
  const y = Y0 + i * PPY;
  const g = svg.append("g").attr("clip-path", clip(stripX, y, stripW, PH));
  g.append("rect").attr("x", stripX).attr("y", y).attr("width", stripW).attr("height", PH).attr("fill", "#D9D9D9");
  g.append("text").attr("transform", `translate(${stripX + stripW / 2},${y + PH / 2}) rotate(90)`).attr("y", 13).attr("text-anchor", "middle").attr("font-size", FS).attr("fill", "#1A1A1A").text(varNames[i]);
}
</script>
</body></html>
